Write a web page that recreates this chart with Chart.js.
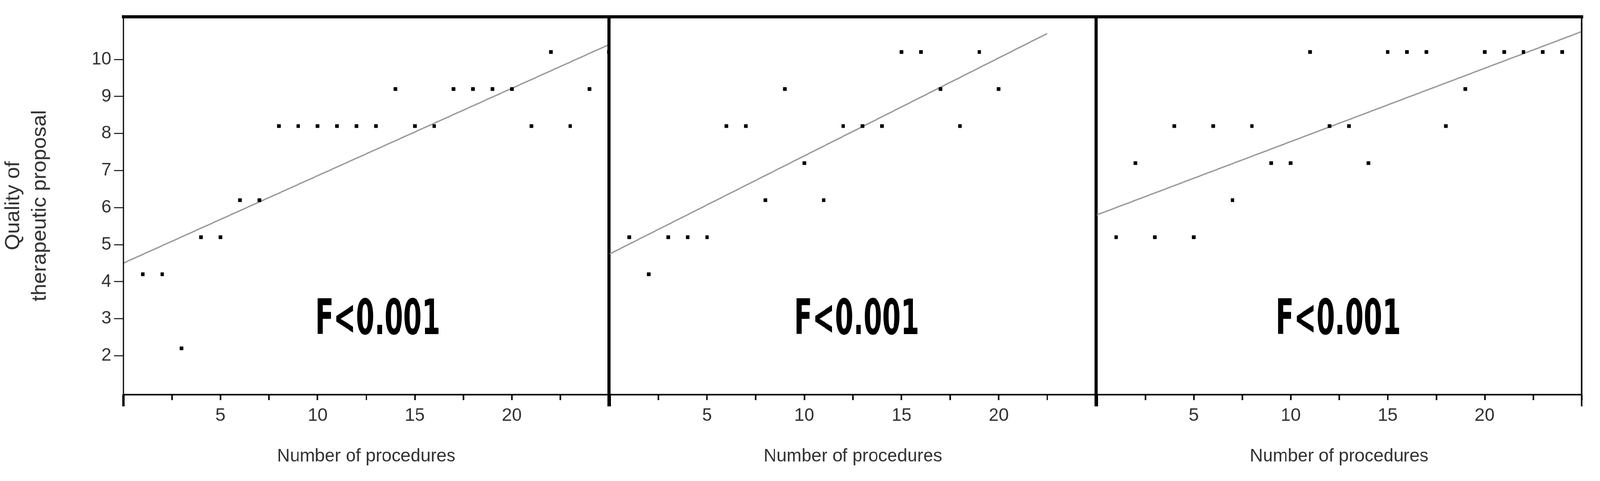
<!DOCTYPE html>
<html><head><meta charset="utf-8">
<script src="https://cdn.jsdelivr.net/npm/chart.js@4"></script>
<style>html,body{margin:0;padding:0;background:#fff;overflow:hidden}#wrap{position:absolute;left:0;top:0;width:4190px;height:1231px;overflow:hidden;background:#fff;transform-origin:0 0}canvas{position:absolute;top:0}</style>
</head><body><div id="wrap">
<canvas id="c1" width="1610" height="1231" style="left:0px;width:1610px;height:1231px"></canvas>
<canvas id="c2" width="1300" height="1231" style="left:1585px;width:1300px;height:1231px"></canvas>
<canvas id="c3" width="1330" height="1231" style="left:2860px;width:1330px;height:1231px"></canvas>
</div>
<script>
const xTickLabels = [5, 10, 15, 20];
const yTickLabels = [2, 3, 4, 5, 6, 7, 8, 9, 10];
const xTitle = "Number of procedures";
const yTitle = ["Quality of", "therapeutic proposal"];
const statLabel = "F<0.001";

const p1X = [1,2,3,4,5,6,7,8,9,10,11,12,13,14,15,16,17,18,19,20,21,22,23,24,25];
const p1Y = [4.2,4.2,2.2,5.2,5.2,6.2,6.2,8.2,8.2,8.2,8.2,8.2,8.2,9.2,8.2,8.2,9.2,9.2,9.2,9.2,8.2,10.2,8.2,9.2,10.2];
const p1LineX = [0, 25];
const p1LineY = [4.5, 10.4];

const p2X = [1,2,3,4,5,6,7,8,9,10,11,12,13,14,15,16,17,18,19,20];
const p2Y = [5.2,4.2,5.2,5.2,5.2,8.2,8.2,6.2,9.2,7.2,6.2,8.2,8.2,8.2,10.2,10.2,9.2,8.2,10.2,9.2];
const p2LineX = [0, 22.5];
const p2LineY = [4.75, 10.7];

const p3X = [1,2,3,4,5,6,7,8,9,10,11,12,13,14,15,16,17,18,19,20,21,22,23,24];
const p3Y = [5.2,7.2,5.2,8.2,5.2,8.2,6.2,8.2,7.2,7.2,10.2,8.2,8.2,7.2,10.2,10.2,10.2,8.2,9.2,10.2,10.2,10.2,10.2,10.2];
const p3LineX = [0, 25];
const p3LineY = [5.8, 10.75];

const statPos = [[13.1, 2.93], [12.7, 2.93], [12.45, 2.93]];

(function fit() {
  const w = document.getElementById('wrap');
  const sx = window.innerWidth / 4190, sy = window.innerHeight / 1231;
  if (Math.abs(sx - 1) > 0.002 || Math.abs(sy - 1) > 0.002) w.style.transform = 'scale(' + sx + ',' + sy + ')';
})();

Chart.defaults.font.family = "'Liberation Sans', Arial, sans-serif";

function pts(xs, ys) { return xs.map((x, i) => ({x: x, y: ys[i]})); }

function makeChart(id, idx, xs, ys, lx, ly, opts) {
  const borderPlugin = {
    id: 'borders' + idx,
    afterDraw(chart) {
      const ctx = chart.ctx, a = chart.chartArea;
      ctx.save();
      ctx.strokeStyle = '#000';
      ctx.lineWidth = 8;
      ctx.beginPath(); ctx.moveTo(a.left - 4, a.top); ctx.lineTo(a.right + 4, a.top); ctx.stroke();
      ctx.lineWidth = opts.rightW;
      ctx.beginPath(); ctx.moveTo(a.right, a.top - 4); ctx.lineTo(a.right, a.bottom + 30); ctx.stroke();
      if (opts.left) {
        ctx.lineWidth = 3;
        ctx.beginPath(); ctx.moveTo(a.left, a.top); ctx.lineTo(a.left, a.bottom); ctx.stroke();
      }
      ctx.lineWidth = 6;
      ctx.beginPath(); ctx.moveTo(a.left, a.bottom); ctx.lineTo(a.left, a.bottom + 30); ctx.stroke();
      const xs_ = chart.scales.x, ys_ = chart.scales.y;
      ctx.fillStyle = '#000';
      ctx.font = "bold 108px 'DejaVu Sans Condensed', 'Liberation Sans Narrow', sans-serif";
      ctx.textAlign = 'center'; ctx.textBaseline = 'middle';
      ctx.save();
      const cx = xs_.getPixelForValue(statPos[idx][0]), cy = ys_.getPixelForValue(statPos[idx][1]);
      ctx.translate(cx, cy); ctx.scale(0.72, 1.15);
      ctx.fillText(statLabel, 0, 0);
      ctx.restore();
      ctx.restore();
    }
  };
  return new Chart(document.getElementById(id), {
    type: 'scatter',
    data: {
      datasets: [
        {data: pts(xs, ys), backgroundColor: '#000', borderColor: '#000', pointRadius: 6, pointStyle: 'rect', order: 1},
        {type: 'line', data: pts(lx, ly), borderColor: '#9a9a9a', borderWidth: 3.5, pointRadius: 0, fill: false, order: 2}
      ]
    },
    plugins: [borderPlugin],
    options: {
      responsive: false, animation: false, devicePixelRatio: 1,
      layout: {padding: {top: 43, bottom: 21, left: opts.padL, right: opts.padR}},
      plugins: {legend: {display: false}, tooltip: {enabled: false}},
      scales: {
        x: {
          type: 'linear', min: 0, max: 25,
          afterFit(s) { s.height = 200; },
          border: {display: true, color: '#000', width: 4},
          grid: {display: true, drawOnChartArea: false, drawTicks: true, tickLength: 14, tickWidth: 4, tickColor: '#000'},
          ticks: {stepSize: 2.5, autoSkip: false, maxRotation: 0, padding: 12, color: '#333', font: {size: 47},
            callback: v => xTickLabels.includes(v) ? String(v) : ''},
          title: {display: true, text: xTitle, color: '#333', font: {size: 47}, padding: {top: 0, bottom: 14}}
        },
        y: {
          display: opts.left, min: 0.95, max: 11.15,
          afterFit(s) { if (opts.left) s.width = 323; },
          afterBuildTicks(s) { s.ticks = yTickLabels.map(v => ({value: v})); },
          border: {display: false},
          grid: {display: true, drawOnChartArea: false, tickLength: 24, tickWidth: 3, tickColor: '#333'},
          ticks: {padding: 8, color: '#333', font: {size: 46}},
          title: {display: opts.left, text: yTitle, color: '#333', font: {size: 54, lineHeight: 1.3}, padding: {top: 0, bottom: 0}}
        }
      }
    }
  });
}

makeChart('c1', 0, p1X, p1Y, p1LineX, p1LineY, {left: true, padL: 0, padR: 15, rightW: 8});
makeChart('c2', 1, p2X, p2Y, p2LineX, p2LineY, {left: false, padL: 10, padR: 15, rightW: 8});
makeChart('c3', 2, p3X, p3Y, p3LineX, p3LineY, {left: false, padL: 10, padR: 48, rightW: 4});
</script>
</body></html>
